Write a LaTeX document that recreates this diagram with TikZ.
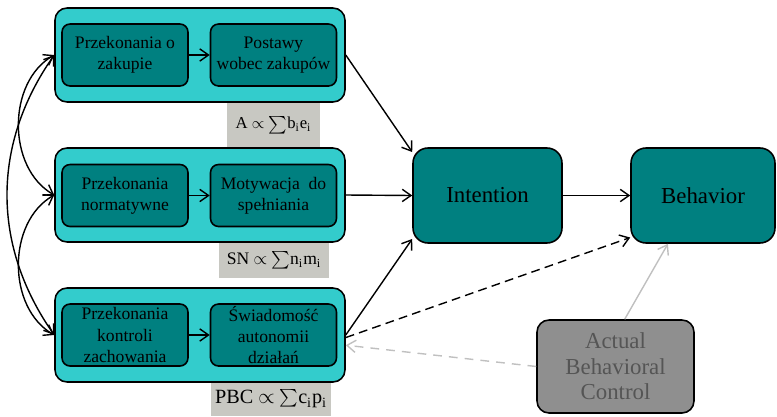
\documentclass[tikz,border=0pt]{standalone}
\usepackage{fontspec}
\setmainfont{Liberation Serif}
\usepackage{xcolor}
\usetikzlibrary{arrows, arrows.meta}
\definecolor{outercyan}{RGB}{51,204,204}
\definecolor{innerteal}{RGB}{0,128,128}
\definecolor{labelgrey}{RGB}{200,200,194}
\definecolor{abcgrey}{RGB}{143,143,143}
\definecolor{abctext}{RGB}{85,85,85}
\definecolor{faintline}{RGB}{192,192,192}
\tikzstyle{outerbox} = [draw, line width=0.9pt, fill=outercyan, rounded corners=0.24cm, minimum width=5.8cm, minimum height=1.88cm]
\tikzstyle{innerbox} = [draw, line width=0.9pt, fill=innerteal, rounded corners=0.16cm, minimum width=2.52cm, minimum height=1.24cm, align=center, inner sep=1pt, font=\fontsize{10}{12}\selectfont]
\tikzstyle{bigbox} = [draw, line width=0.9pt, fill=innerteal, rounded corners=0.3cm, minimum height=1.9cm, font=\fontsize{13}{15}\selectfont]
\tikzstyle{formula} = [fill=labelgrey, inner sep=0pt]
\tikzstyle{arrow} = [line width=0.8pt,->,>={Straight Barb[length=5pt,width=7pt]}]

\begin{document}
\begin{tikzpicture}[x=0.02cm, y=-0.02cm]
        \useasboundingbox (0,0) rectangle (777,416);

        % Formula labels under the groups
        \node[formula, minimum width=1.86cm, minimum height=0.88cm, font=\fontsize{9.5}{11}\selectfont] (fA) at (273.5,125) {A $\propto$ $\sum$b\textsubscript{i}e\textsubscript{i}};
        \node[formula, minimum width=2.2cm, minimum height=0.72cm, font=\fontsize{10}{11}\selectfont] (fSN) at (274,260) {SN $\propto$ $\sum$n\textsubscript{i}m\textsubscript{i}};
        \node[formula, minimum width=2.4cm, minimum height=0.68cm, font=\fontsize{11.5}{13}\selectfont] (fPBC) at (271,399) {PBC\ $\propto$\ $\sum$c\textsubscript{i}p\textsubscript{i}};

        % Outer groups
        \node[outerbox] (att) at (200,55) {};
        \node[outerbox] (norm) at (200,195) {};
        \node[outerbox] (ctrl) at (200,335) {};

        % Inner boxes
        \node[innerbox] (att1) at (125,55) {Przekonania o\\zakupie};
        \node[innerbox] (att2) at (273.5,55) {Postawy\\wobec zakupów};
        \node[innerbox] (norm1) at (125,195.5) {Przekonania\\normatywne};
        \node[innerbox] (norm2) at (273.5,195.5) {Motywacja\ \ do\\spełniania};
        \node[innerbox] (ctrl1) at (125,335) {Przekonania\\kontroli\\zachowania};
        \node[innerbox] (ctrl2) at (273.5,335) {Świadomość\\autonomii\\działań};

        \draw[arrow] (att1) -- (att2);
        \draw[arrow] (norm1) -- (norm2);
        \draw[arrow] (ctrl1) -- (ctrl2);

        % Intention, behavior and actual control
        \node[bigbox, minimum width=2.98cm] (int) at (487.5,195.5) {Intention};
        \node[bigbox, minimum width=2.88cm] (beh) at (703,195.5) {Behavior};
        \node[draw, line width=0.9pt, fill=abcgrey, text=abctext, rounded corners=0.24cm, minimum width=3.14cm, minimum height=1.86cm, align=center, font=\fontsize{13}{14.5}\selectfont] (abc) at (615.5,366.5) {Actual\\Behavioral\\Control};

        % Correlations between the groups
        \draw[arrow,<->] (att.west) to[out=210,in=150] (norm.west);
        \draw[arrow,<->] (norm.west) to[out=210,in=150] (ctrl.west);
        \draw[arrow,<->] (att.west) to[out=235,in=125] (ctrl.west);

        % Paths to intention and behavior
        \draw[arrow] (att.east) -- (int.150);
        \draw[arrow] (norm.east) -- (int.west);
        \draw[arrow] (ctrl.east) -- (int.210);
        \draw[arrow] (int.east) -- (beh.west);
        \draw[arrow, dashed, dash pattern=on 5pt off 3pt] (ctrl.-1) -- (beh.210);
        \draw[arrow, faintline, dashed, dash pattern=on 5pt off 4pt] (abc.west) -- (ctrl.-4);
        \draw[arrow, faintline] (abc.79) -- (beh.234);
      \end{tikzpicture}
\end{document}
